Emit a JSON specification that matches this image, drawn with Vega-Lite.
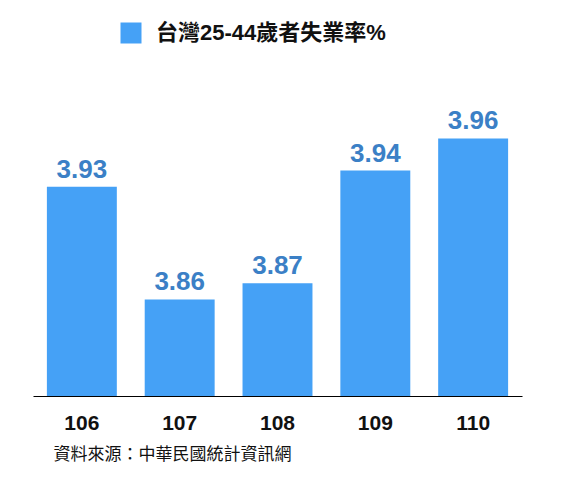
{
  "$schema": "https://vega.github.io/schema/vega-lite/v6.json",
  "width": 489,
  "height": 322,
  "autosize": {"type": "none"},
  "padding": {"left": 33, "top": 74, "right": 54, "bottom": 85},
  "background": "white",
  "config": {
    "font": "Liberation Sans, Noto Sans CJK TC",
    "view": {"stroke": null}
  },
  "data": {
    "values": [
      {"year": "106", "rate": 3.93, "series": "台灣25-44歲者失業率%"},
      {"year": "107", "rate": 3.86, "series": "台灣25-44歲者失業率%"},
      {"year": "108", "rate": 3.87, "series": "台灣25-44歲者失業率%"},
      {"year": "109", "rate": 3.94, "series": "台灣25-44歲者失業率%"},
      {"year": "110", "rate": 3.96, "series": "台灣25-44歲者失業率%"}
    ]
  },
  "encoding": {
    "x": {
      "field": "year",
      "type": "nominal",
      "sort": null,
      "scale": {"paddingInner": 0.285, "paddingOuter": 0.142},
      "axis": {
        "title": "資料來源：中華民國統計資訊網",
        "titleFontSize": 17,
        "titleFontWeight": "normal",
        "titleColor": "#111",
        "titleAnchor": "start",
        "titleAlign": "left",
        "titleBaseline": "alphabetic",
        "titleX": 20,
        "titleY": 63,
        "labelAngle": 0,
        "labelFontSize": 21,
        "labelFontWeight": "bold",
        "labelColor": "#111",
        "labelPadding": 16,
        "ticks": false,
        "domainColor": "#000",
        "domainWidth": 1.2,
        "grid": false
      }
    },
    "y": {
      "field": "rate",
      "type": "quantitative",
      "scale": {"domain": [3.8, 4.0], "zero": false, "clamp": true},
      "axis": null
    }
  },
  "layer": [
    {
      "mark": {"type": "bar", "clip": true},
      "encoding": {
        "color": {
          "field": "series",
          "type": "nominal",
          "scale": {"range": ["#45a1f6"]},
          "legend": {
            "title": null,
            "orient": "none",
            "legendX": 87,
            "legendY": -52,
            "padding": 0,
            "symbolType": "square",
            "symbolSize": 441,
            "symbolStrokeWidth": 0,
            "symbolOpacity": 1,
            "labelFontSize": 22,
            "labelFontWeight": "bold",
            "labelColor": "#111",
            "labelOffset": 14,
            "labelLimit": 400
          }
        }
      }
    },
    {
      "mark": {
        "type": "text",
        "baseline": "alphabetic",
        "dy": -9,
        "fontSize": 26,
        "fontWeight": "bold",
        "color": "#3b80c6"
      },
      "encoding": {
        "text": {"field": "rate", "type": "quantitative", "format": ".2f"}
      }
    }
  ]
}
